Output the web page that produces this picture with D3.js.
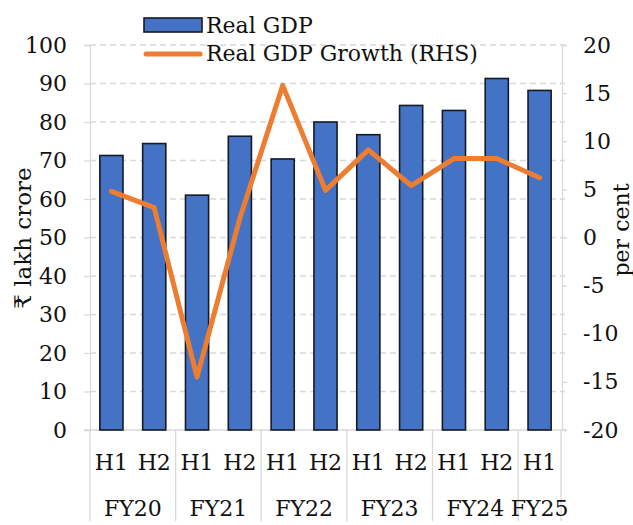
<!DOCTYPE html>
<html>
<head>
<meta charset="utf-8">
<script src="https://cdn.jsdelivr.net/npm/d3@7"></script>
<style>
  html, body { margin: 0; padding: 0; background: #ffffff; }
  svg text { font-family: "DejaVu Serif", "Liberation Serif", serif; fill: #111111; }
</style>
</head>
<body>
<svg id="chart" width="633" height="525"></svg>
<script>
// ---- data ----
const halves = ["H1", "H2", "H1", "H2", "H1", "H2", "H1", "H2", "H1", "H2", "H1"];
const fiscalYears = ["FY20", "FY21", "FY22", "FY23", "FY24", "FY25"];
const fyCounts = [2, 2, 2, 2, 2, 1];
const realGDP = [71.3, 74.4, 61.0, 76.3, 70.4, 80.0, 76.7, 84.3, 83.0, 91.3, 88.2];
const growth = [4.8, 3.1, -14.5, 2.0, 15.8, 4.9, 9.1, 5.4, 8.2, 8.2, 6.2];
const leftTicks = [0, 10, 20, 30, 40, 50, 60, 70, 80, 90, 100];
const rightTicks = [-20, -15, -10, -5, 0, 5, 10, 15, 20];

// ---- layout ----
const svg = d3.select("#chart");
const x0 = 90, x1 = 561, yTop = 45, yBot = 430;
const idx = d3.range(halves.length);
const slot = d3.scaleBand().domain(idx).range([x0, x1]).padding(0);
const xBar = d3.scaleBand().domain(idx).range([x0, x1]).paddingInner(0.46).paddingOuter(0.23);
const yL = d3.scaleLinear().domain([0, 100]).range([yBot, yTop]);
const yR = d3.scaleLinear().domain([-20, 20]).range([yBot, yTop]);
const gridCol = "#d9d9d9";
const fs = 22;
const txtCol = "#111111";

// gridlines (dashed)
svg.append("g").selectAll("line").data(leftTicks.filter(d => d > 0)).join("line")
  .attr("x1", x0).attr("x2", x1 + 4)
  .attr("y1", d => yL(d)).attr("y2", d => yL(d))
  .attr("stroke", gridCol).attr("stroke-width", 1.3).attr("stroke-dasharray", "6,4");

// left axis
const leftAxis = d3.axisLeft(yL).tickValues(leftTicks).tickSize(6).tickPadding(17).tickFormat(d => String(d));
const gL = svg.append("g").attr("transform", `translate(${x0},0)`).call(leftAxis);
gL.select(".domain").attr("stroke", gridCol).attr("stroke-width", 1.3);
gL.selectAll(".tick line").attr("stroke", gridCol).attr("stroke-width", 1.3);
gL.selectAll(".tick text").attr("font-size", fs).attr("fill", txtCol)
  .attr("font-family", "DejaVu Serif, serif");

// right axis
const rightAxis = d3.axisRight(yR).tickValues(rightTicks).tickSize(5).tickPadding(16).tickFormat(d => String(d));
const gR = svg.append("g").attr("transform", `translate(${x1 + 1},0)`).call(rightAxis);
gR.select(".domain").attr("stroke", gridCol).attr("stroke-width", 1.3);
gR.selectAll(".tick line").attr("stroke", gridCol).attr("stroke-width", 1.3);
gR.selectAll(".tick text").attr("font-size", fs).attr("fill", txtCol)
  .attr("font-family", "DejaVu Serif, serif");

// bottom category axis line and separators
svg.append("line").attr("x1", x0 - 6).attr("x2", x1 + 5).attr("y1", yBot).attr("y2", yBot)
  .attr("stroke", gridCol).attr("stroke-width", 1.3);
const boundaries = [0];
fyCounts.reduce((acc, c) => { boundaries.push(acc + c); return acc + c; }, 0);
svg.append("g").selectAll("line").data(boundaries).join("line")
  .attr("x1", d => d < halves.length ? slot(d) : x1)
  .attr("x2", d => d < halves.length ? slot(d) : x1)
  .attr("y1", yBot).attr("y2", 521)
  .attr("stroke", gridCol).attr("stroke-width", 1.3);

// bars
svg.append("g").selectAll("rect").data(realGDP).join("rect")
  .attr("x", (d, i) => xBar(i)).attr("width", xBar.bandwidth())
  .attr("y", d => yL(d)).attr("height", d => yBot - yL(d))
  .attr("fill", "#4472C4").attr("stroke", "#161a24").attr("stroke-width", 1.6);

// growth line
const line = d3.line().x((d, i) => slot(i) + slot.bandwidth() / 2).y(d => yR(d));
svg.append("path").datum(growth).attr("d", line)
  .attr("fill", "none").attr("stroke", "#ED7D31").attr("stroke-width", 5)
  .attr("stroke-linejoin", "round").attr("stroke-linecap", "round");

// category labels
svg.append("g").selectAll("text").data(halves).join("text")
  .attr("x", (d, i) => slot(i) + slot.bandwidth() / 2).attr("y", 462)
  .attr("text-anchor", "middle").attr("dominant-baseline", "central")
  .attr("font-size", fs).text(d => d);
let start = 0;
const fyPos = fyCounts.map(c => { const s = start; start += c; return (slot(s) + slot(s + c - 1) + slot.bandwidth()) / 2; });
svg.append("g").selectAll("text").data(fiscalYears).join("text")
  .attr("x", (d, i) => fyPos[i]).attr("y", 508)
  .attr("text-anchor", "middle").attr("dominant-baseline", "central")
  .attr("font-size", fs).text(d => d);

// axis titles
svg.append("text").attr("transform", "translate(23,238) rotate(-90)")
  .attr("text-anchor", "middle").attr("dominant-baseline", "central")
  .attr("font-size", 23).text("₹ lakh crore");
svg.append("text").attr("transform", "translate(621,230) rotate(-90)")
  .attr("text-anchor", "middle").attr("dominant-baseline", "central")
  .attr("font-size", 22).text("per cent");

// legend
const lg = svg.append("g");
lg.append("rect").attr("x", 144).attr("y", 18).attr("width", 58).attr("height", 14)
  .attr("fill", "#4472C4").attr("stroke", "#161a24").attr("stroke-width", 1.6);
lg.append("text").attr("x", 206).attr("y", 33).attr("font-size", fs).text("Real GDP");
lg.append("line").attr("x1", 146).attr("x2", 200).attr("y1", 54).attr("y2", 54)
  .attr("stroke", "#ED7D31").attr("stroke-width", 5).attr("stroke-linecap", "round");
lg.append("text").attr("x", 206).attr("y", 61).attr("font-size", fs).text("Real GDP Growth (RHS)");
</script>
</body>
</html>
